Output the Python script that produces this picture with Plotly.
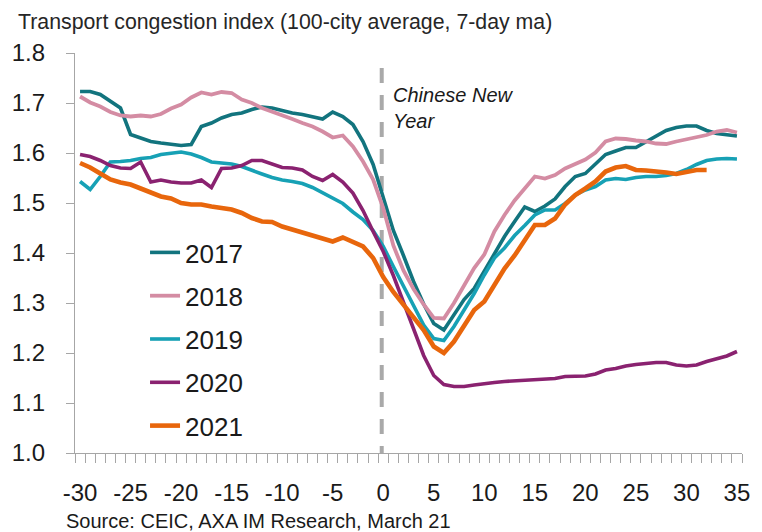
import plotly.graph_objects as go

# ---- data (days relative to Chinese New Year) ----
days = list(range(-30, 36))

y2017 = [1.723, 1.723, 1.717, 1.703, 1.690, 1.637, 1.630, 1.623, 1.620, 1.618,
         1.615, 1.617, 1.653, 1.660, 1.670, 1.677, 1.680, 1.687, 1.692, 1.690,
         1.685, 1.680, 1.677, 1.672, 1.668, 1.682, 1.673, 1.657, 1.623, 1.577,
         1.510, 1.445, 1.395, 1.343, 1.298, 1.259, 1.246, 1.276, 1.307, 1.329,
         1.363, 1.399, 1.433, 1.463, 1.492, 1.483, 1.494, 1.508, 1.533, 1.553,
         1.559, 1.578, 1.597, 1.604, 1.611, 1.611, 1.623, 1.634, 1.645, 1.651,
         1.654, 1.654, 1.645, 1.639, 1.637, 1.634]

y2018 = [1.713, 1.701, 1.693, 1.682, 1.675, 1.673, 1.675, 1.673, 1.678, 1.689,
         1.697, 1.711, 1.721, 1.717, 1.722, 1.720, 1.707, 1.700, 1.690, 1.683,
         1.677, 1.668, 1.660, 1.653, 1.643, 1.631, 1.635, 1.613, 1.583, 1.547,
         1.490, 1.415, 1.365, 1.328, 1.297, 1.270, 1.269, 1.300, 1.335, 1.370,
         1.397, 1.443, 1.476, 1.505, 1.529, 1.553, 1.549, 1.556, 1.569, 1.578,
         1.587, 1.601, 1.623, 1.629, 1.628, 1.625, 1.623, 1.619, 1.618, 1.623,
         1.627, 1.631, 1.636, 1.643, 1.646, 1.641]

y2019 = [1.543, 1.527, 1.553, 1.582, 1.583, 1.585, 1.589, 1.591, 1.597, 1.600,
         1.602, 1.598, 1.591, 1.582, 1.580, 1.578, 1.573, 1.565, 1.558, 1.551,
         1.546, 1.543, 1.539, 1.531, 1.520, 1.510, 1.499, 1.482, 1.467, 1.445,
         1.413, 1.373, 1.333, 1.293, 1.256, 1.229, 1.225, 1.253, 1.286, 1.319,
         1.356, 1.390, 1.410, 1.435, 1.455, 1.476, 1.486, 1.486, 1.499, 1.516,
         1.526, 1.533, 1.546, 1.549, 1.547, 1.551, 1.553, 1.553, 1.555, 1.559,
         1.567, 1.577, 1.585, 1.588, 1.589, 1.588]

y2020 = [1.597, 1.593, 1.585, 1.575, 1.570, 1.569, 1.582, 1.542, 1.546, 1.542,
         1.540, 1.540, 1.546, 1.531, 1.569, 1.570, 1.575, 1.585, 1.585, 1.578,
         1.571, 1.570, 1.566, 1.553, 1.545, 1.557, 1.542, 1.520, 1.485, 1.443,
         1.403, 1.355, 1.300, 1.245, 1.195, 1.155, 1.137, 1.133, 1.133, 1.136,
         1.139, 1.141, 1.143, 1.144, 1.146, 1.146, 1.147, 1.149, 1.153, 1.154,
         1.154, 1.158, 1.166, 1.169, 1.174, 1.177, 1.179, 1.181, 1.181, 1.176,
         1.174, 1.176, 1.183, 1.189, 1.194, 1.203]

y2021 = [1.580, 1.571, 1.559, 1.547, 1.541, 1.537, 1.529, 1.520, 1.513, 1.509,
         1.500, 1.497, 1.497, 1.493, 1.490, 1.487, 1.480, 1.470, 1.463, 1.462,
         1.453, 1.447, 1.440, 1.433, 1.427, 1.423, 1.431, 1.423, 1.413, 1.390,
         1.352, 1.322, 1.297, 1.272, 1.246, 1.213, 1.200, 1.223, 1.253, 1.286,
         1.303, 1.336, 1.369, 1.395, 1.427, 1.456, 1.456, 1.469, 1.497, 1.516,
         1.529, 1.543, 1.563, 1.571, 1.574, 1.566, 1.565, 1.564, 1.561, 1.558,
         1.563, 1.566, 1.566, None, None, None]

series_names = ["2017", "2018", "2019", "2020", "2021"]
series_values = [y2017, y2018, y2019, y2020, y2021]
series_colors = ["#12747e", "#d48ca3", "#17a1b5", "#8a2270", "#e8660c"]
series_widths = [3.6, 3.8, 3.6, 3.6, 4.6]

x_tick_vals = [-30, -25, -20, -15, -10, -5, 0, 5, 10, 15, 20, 25, 30, 35]
x_tick_text = [str(v) for v in x_tick_vals]
y_tick_vals = [1.0, 1.1, 1.2, 1.3, 1.4, 1.5, 1.6, 1.7, 1.8]

cny_line_x = -0.15          # Chinese New Year marker
cny_line_top = 1.77

FONT = "Liberation Sans, Arial, sans-serif"
AXIS_GREY = "#a6a6a6"
TEXT = "#1a1a1a"

fig = go.Figure()
for name, vals, col, w in zip(series_names, series_values, series_colors, series_widths):
    fig.add_trace(go.Scatter(
        x=days, y=vals, name=name, mode="lines", legendgroup=name,
        line=dict(color=col, width=w), connectgaps=False,
    ))

fig.add_shape(type="line", xref="x", yref="y",
              x0=cny_line_x, x1=cny_line_x, y0=cny_line_top, y1=1.0,
              line=dict(color="#a9a9a9", width=4, dash="15px,12px"), layer="below")

fig.add_annotation(text="<i>Chinese New<br>Year</i>", xref="paper", yref="paper",
                   x=0.474, y=0.927, xanchor="left", yanchor="top", showarrow=False,
                   align="left", font=dict(family=FONT, size=20, color=TEXT))

fig.add_annotation(text="Source: CEIC, AXA IM Research, March 21",
                   xref="paper", yref="paper", x=-0.016, y=-0.17,
                   xanchor="left", yanchor="middle", showarrow=False,
                   font=dict(family=FONT, size=20, color=TEXT))

fig.update_layout(
    width=762, height=532,
    margin=dict(l=73, r=14, t=53, b=79),
    paper_bgcolor="white", plot_bgcolor="white",
    title=dict(text="Transport congestion index (100-city average, 7-day ma)",
               x=18 / 762, xref="container", xanchor="left",
               y=1 - 22 / 532, yref="container", yanchor="middle",
               font=dict(family=FONT, size=21.3, color="#262626")),
    legend=dict(x=0.105, y=0.56, xanchor="left", yanchor="top",
                font=dict(family=FONT, size=26, color=TEXT),
                tracegroupgap=6.5, bgcolor="rgba(0,0,0,0)", traceorder="grouped"),
    showlegend=True,
)

fig.update_xaxes(range=[-30.5, 35.5], tickmode="array", tickvals=x_tick_vals,
                 ticktext=x_tick_text, ticks="", showline=True, linecolor=AXIS_GREY,
                 linewidth=1.3, showgrid=False, zeroline=False,
                 tickfont=dict(family=FONT, size=24, color=TEXT),
                 ticklabelstandoff=18,
                 minor=dict(tick0=-30.5, dtick=1, ticks="outside", ticklen=9,
                            tickcolor=AXIS_GREY, tickwidth=1.3, showgrid=False))

fig.update_yaxes(range=[1.0, 1.8], tickmode="array", tickvals=y_tick_vals,
                 tickformat=".1f", ticks="outside", ticklen=8, tickcolor=AXIS_GREY,
                 tickwidth=1.3, showline=True, linecolor=AXIS_GREY, linewidth=1.3,
                 showgrid=False, zeroline=False,
                 tickfont=dict(family=FONT, size=24, color=TEXT),
                 ticklabelstandoff=16)

fig.write_html("out.html", config={"displayModeBar": False},
               post_script="document.body.style.margin='0';")
